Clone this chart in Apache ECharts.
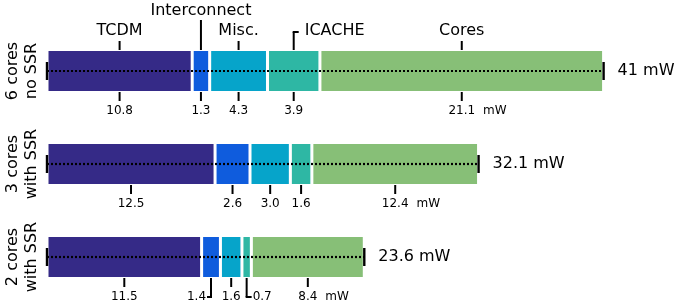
<!DOCTYPE html>
<html>
<head>
<meta charset="utf-8">
<script src="https://cdn.jsdelivr.net/npm/echarts@6/dist/echarts.min.js"></script>
<style>
  html, body { margin: 0; padding: 0; background: #fff; }
  #chart { width: 674px; height: 307px; }
</style>
</head>
<body>
<div id="chart"></div>
<script>
// configurations (rows of the chart)
const categories = ['6 cores\nno SSR', '3 cores\nwith SSR', '2 cores\nwith SSR']
const totals = ['41', '32.1', '23.6']

// power per block, mW
const parts = ['TCDM', 'Interconnect', 'Misc.', 'ICACHE', 'Cores']
const tcdm = [10.8, 12.5, 11.5]
const interconnect = [1.3, 2.6, 1.4]
const misc = [4.3, 3.0, 1.6]
const icache = [3.9, 1.6, 0.7]
const cores = [21.1, 12.4, 8.4]

const segs = [tcdm, interconnect, misc, icache, cores]
const colors = ['#352a87', '#0f5cdd', '#06a4ca', '#2eb7a4', '#87bf77']
const FONT = 'DejaVu Sans'

// how the leader ticks are drawn (top names only on the first row)
const topStyle = ['straight', 'tall', 'straight', 'elbowR', 'straight']
const bottomStyle = [
  ['straight', 'straight', 'straight', 'straight', 'straight'],
  ['straight', 'straight', 'straight', 'straight', 'straight'],
  ['straight', 'elbowL', 'straight', 'elbowR', 'straight'],
]

function txt(x, y, text, align, size, extra) {
  return Object.assign({
    type: 'text',
    x: x,
    y: y,
    style: {
      text: text,
      x: 0,
      y: 0,
      align: align,
      verticalAlign: 'middle',
      fontSize: size,
      fontFamily: FONT,
      fill: '#000',
    },
  }, extra || {})
}

function seg(x1, y1, x2, y2) {
  return {
    type: 'line',
    shape: { x1, y1, x2, y2 },
    style: { stroke: '#000', lineWidth: 2 },
  }
}

function renderItem(params, api) {
  const i = params.dataIndex
  const vals = segs.map((s) => s[i])
  const sum = vals.reduce((a, b) => a + b, 0)
  const start = api.coord([0, i])
  const x0 = start[0]
  const cy = start[1]
  const xEnd = api.coord([sum, i])[0]
  const half = 21
  const top = cy - half
  const bot = cy + half
  const children = []

  // dotted line through the bar + end caps
  children.push({
    type: 'line',
    shape: { x1: x0, y1: cy, x2: xEnd, y2: cy },
    style: { stroke: '#000', lineWidth: 2.2, lineDash: [2, 2] },
  })
  children.push({
    type: 'line',
    shape: { x1: x0, y1: cy - 9, x2: x0, y2: cy + 9 },
    style: { stroke: '#000', lineWidth: 2.4 },
  })
  children.push({
    type: 'line',
    shape: { x1: xEnd, y1: cy - 9, x2: xEnd, y2: cy + 9 },
    style: { stroke: '#000', lineWidth: 2.4 },
  })
  children.push(txt(xEnd + 14, cy, totals[i] + ' mW', 'left', 16))

  // row label, rotated
  children.push(txt(22, cy, categories[i], 'center', 16, {
    rotation: Math.PI / 2,
    style: {
      text: categories[i], x: 0, y: 0, align: 'center', verticalAlign: 'middle',
      fontSize: 16, lineHeight: 19, fontFamily: FONT, fill: '#000',
    },
  }))

  let acc = 0
  vals.forEach((v, k) => {
    const cx = api.coord([acc + v / 2, i])[0]
    acc += v
    const label = v.toFixed(1)

    // values under the bar
    const bs = bottomStyle[i][k]
    const ly = bot + 19
    if (bs === 'elbowL') {
      children.push(seg(cx, bot, cx, ly))
      children.push(seg(cx + 1, ly, cx - 4, ly))
      children.push(txt(cx - 5, ly, label, 'right', 12))
    } else if (bs === 'elbowR') {
      children.push(seg(cx, bot, cx, ly))
      children.push(seg(cx - 1, ly, cx + 5, ly))
      children.push(txt(cx + 6, ly, label, 'left', 12))
    } else {
      children.push(seg(cx, bot, cx, bot + 9))
      children.push(txt(cx, ly, label, 'center', 12))
    }
    if (k === vals.length - 1) {
      const w = label.replace('.', '').length * 7.6 + 3.8
      children.push(txt(cx + w / 2 + 8, ly, 'mW', 'left', 12))
    }

    // block names above the first bar
    if (i === 0) {
      const ts = topStyle[k]
      if (ts === 'tall') {
        children.push(seg(cx, top, cx, top - 30))
        children.push(txt(cx, top - 39, parts[k], 'center', 16))
      } else if (ts === 'elbowR') {
        children.push(seg(cx, top, cx, top - 18))
        children.push(seg(cx - 1, top - 18, cx + 5, top - 18))
        children.push(txt(cx + 11, top - 19, parts[k], 'left', 16))
      } else {
        children.push(seg(cx, top, cx, top - 9))
        children.push(txt(cx, top - 19, parts[k], 'center', 16))
      }
    }
  })

  return { type: 'group', children: children }
}

const chart = echarts.init(document.getElementById('chart'), null, { renderer: 'canvas' })

const barSeries = parts.map((name, k) => ({
  name: name,
  type: 'bar',
  stack: 'power',
  data: segs[k],
  barWidth: 43,
  silent: true,
  itemStyle: { color: colors[k], borderColor: '#fff', borderWidth: 1.5 },
}))

chart.setOption({
  animation: false,
  backgroundColor: '#fff',
  grid: { left: 47, right: 22, top: 24.5, bottom: 3.5 },
  xAxis: { type: 'value', min: 0, max: 45, show: false },
  yAxis: { type: 'category', data: categories, inverse: true, show: false },
  series: barSeries.concat([
    {
      type: 'custom',
      z: 5,
      silent: true,
      clip: false,
      renderItem: renderItem,
      data: categories.map((c, i) => [0, i]),
    },
  ]),
})
</script>
</body>
</html>
